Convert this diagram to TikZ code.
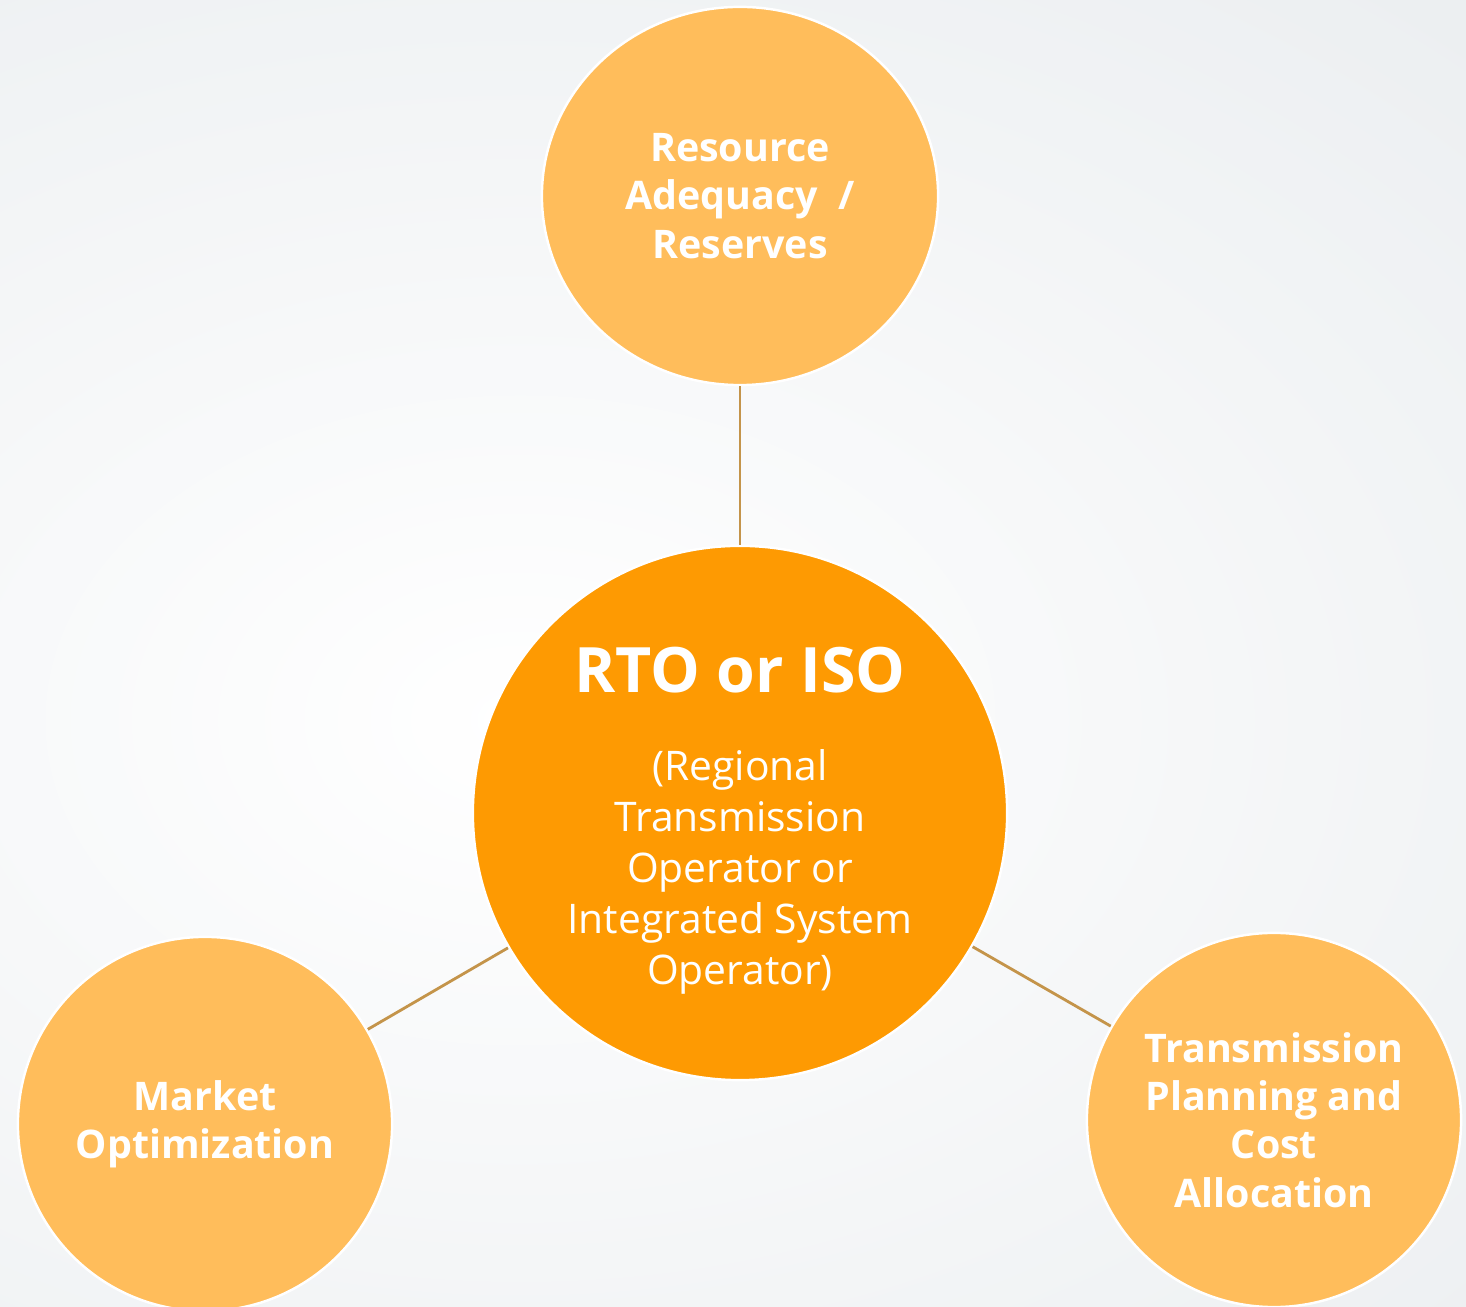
\documentclass[tikz,border=0pt]{standalone}
\usepackage{fontspec}
\setmainfont{Open Sans}
\usetikzlibrary{shapes.geometric}
\definecolor{rtoOrange}{HTML}{FE9A02}
\definecolor{areaOrange}{HTML}{FFBD5B}
\definecolor{linkTan}{HTML}{C4944A}
\definecolor{bgGrey}{HTML}{E5E9EC}
\tikzset{
  hub/.style={
    circle,
    minimum size=5.34cm,
    inner sep=0pt,
    align=center,
    draw=white,
    line width=0.7pt,
    fill=rtoOrange,
    text=white,
    font=\fontsize{11.6}{14.5}\selectfont
    },
  area/.style={
    circle,
    minimum size=3.74cm,
    inner sep=0pt,
    align=center,
    draw=white,
    line width=0.7pt,
    fill=areaOrange,
    text=white,
    font=\fontsize{11.2}{13.7}\selectfont\bfseries
    },
  areaoval/.style={
    area,
    ellipse,
    minimum width=3.96cm,
    minimum height=3.78cm
    },
  link/.style={draw=linkTan, line width=0.8pt},
}

\begin{document}
\begin{tikzpicture}[x=0.01cm, y=-0.01cm]
% backdrop
\useasboundingbox (0,0) rectangle (1466,1307);
\fill[bgGrey] (0,0) rectangle (1466,1307);
\begin{scope}
  \clip (0,0) rectangle (1466,1307);
  \shade[inner color=white, outer color=bgGrey] (520,720) ellipse (1900 and 1300);
\end{scope}
% hub and the three areas
\node (rto) [hub] at (740,813) {%
  \rule{0pt}{17.5pt}{\fontsize{17.8}{20}\selectfont\bfseries RTO or ISO}\\[10.5pt]
  (Regional\\ Transmission\\ Operator or\\ Integrated System\\ Operator)};
\node (adequacy) [areaoval] at (740,196) {Resource\\ Adequacy\ \ /\\ Reserves};
\node (market) [area] at (205,1124) {Market\\ Optimization};
\node (planning) [area] at (1274,1120) {Transmission\\ Planning and\\ Cost\\ Allocation};
\draw[link] (rto) -- (adequacy);
\draw[link] (rto) -- (market);
\draw[link] (rto) -- (planning);
\end{tikzpicture}
\end{document}
